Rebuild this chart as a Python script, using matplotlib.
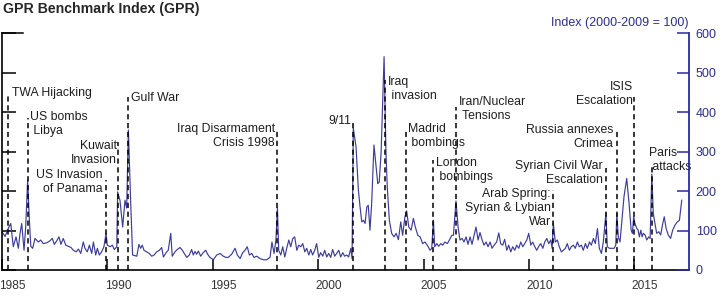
import matplotlib
matplotlib.use("Agg")
import matplotlib.pyplot as plt

plt.rcParams['font.family'] = ['Liberation Sans', 'DejaVu Sans']

# GPR index (decimal years, index value)
dates = [1985.00, 1985.15, 1985.30, 1985.42, 1985.54, 1985.67, 1985.78, 1985.86, 1985.94, 1986.05,
         1986.13, 1986.22, 1986.30, 1986.37, 1986.46, 1986.57, 1986.73, 1986.84, 1986.96, 1987.13,
         1987.28, 1987.39, 1987.49, 1987.60, 1987.71, 1987.80, 1987.91, 1988.03, 1988.15, 1988.28,
         1988.39, 1988.52, 1988.63, 1988.74, 1988.86, 1988.94, 1989.05, 1989.15, 1989.26, 1989.34,
         1989.45, 1989.53, 1989.62, 1989.73, 1989.84, 1989.94, 1990.00, 1990.13, 1990.24, 1990.33,
         1990.45, 1990.49, 1990.60, 1990.73, 1990.84, 1990.92, 1991.00, 1991.11, 1991.20, 1991.40,
         1991.50, 1991.58, 1991.66, 1991.74, 1991.87, 1991.99, 1992.11, 1992.22, 1992.34, 1992.47,
         1992.58, 1992.66, 1992.79, 1992.89, 1993.01, 1993.08, 1993.21, 1993.32, 1993.45, 1993.56,
         1993.65, 1993.77, 1993.89, 1994.00, 1994.08, 1994.16, 1994.24, 1994.32, 1994.43, 1994.55,
         1994.67, 1994.76, 1994.87, 1995.03, 1995.19, 1995.35, 1995.50, 1995.63, 1995.74, 1995.90,
         1996.06, 1996.17, 1996.30, 1996.42, 1996.53, 1996.64, 1996.74, 1996.85, 1996.96, 1997.09,
         1997.24, 1997.40, 1997.56, 1997.72, 1997.81, 1997.91, 1998.00, 1998.07, 1998.13, 1998.23,
         1998.32, 1998.42, 1998.51, 1998.61, 1998.70, 1998.80, 1998.89, 1998.99, 1999.08, 1999.18,
         1999.27, 1999.37, 1999.46, 1999.56, 1999.65, 1999.74, 1999.84, 1999.93, 2000.03, 2000.12,
         2000.22, 2000.31, 2000.41, 2000.50, 2000.60, 2000.69, 2000.79, 2000.88, 2000.98, 2001.07,
         2001.17, 2001.26, 2001.36, 2001.45, 2001.55, 2001.61, 2001.67, 2001.80, 2001.91, 2001.99,
         2002.07, 2002.15, 2002.23, 2002.31, 2002.38, 2002.46, 2002.54, 2002.65, 2002.75, 2002.83,
         2002.90, 2002.99, 2003.13, 2003.22, 2003.28, 2003.38, 2003.49, 2003.60, 2003.70, 2003.81,
         2003.92, 2004.01, 2004.12, 2004.20, 2004.30, 2004.41, 2004.52, 2004.61, 2004.73, 2004.84,
         2004.96, 2005.07, 2005.18, 2005.31, 2005.39, 2005.47, 2005.53, 2005.63, 2005.72, 2005.82,
         2005.91, 2006.02, 2006.13, 2006.23, 2006.34, 2006.42, 2006.54, 2006.64, 2006.73, 2006.83,
         2006.92, 2007.02, 2007.11, 2007.21, 2007.30, 2007.40, 2007.49, 2007.59, 2007.68, 2007.78,
         2007.87, 2007.97, 2008.06, 2008.16, 2008.25, 2008.35, 2008.47, 2008.57, 2008.66, 2008.76,
         2008.85, 2008.95, 2009.04, 2009.14, 2009.23, 2009.33, 2009.42, 2009.52, 2009.61, 2009.71,
         2009.80, 2009.90, 2009.99, 2010.09, 2010.18, 2010.28, 2010.37, 2010.47, 2010.56, 2010.66,
         2010.75, 2010.85, 2010.94, 2011.04, 2011.10, 2011.16, 2011.25, 2011.35, 2011.44, 2011.54,
         2011.63, 2011.73, 2011.82, 2011.92, 2012.01, 2012.11, 2012.20, 2012.30, 2012.39, 2012.49,
         2012.58, 2012.68, 2012.77, 2012.87, 2012.96, 2013.06, 2013.15, 2013.25, 2013.34, 2013.44,
         2013.53, 2013.65, 2013.72, 2013.82, 2013.93, 2014.04, 2014.12, 2014.17, 2014.24, 2014.32,
         2014.40, 2014.51, 2014.64, 2014.75, 2014.85, 2014.91, 2014.97, 2015.03, 2015.12, 2015.18,
         2015.24, 2015.31, 2015.37, 2015.43, 2015.51, 2015.59, 2015.68, 2015.75, 2015.83, 2015.90,
         2015.98, 2016.06, 2016.16, 2016.25, 2016.35, 2016.42, 2016.51, 2016.61, 2016.72, 2016.82,
         2016.93, 2017.04, 2017.14, 2017.25]
gpr = [97, 85, 105, 118, 59, 84, 55, 93, 118, 50,
       110, 228, 130, 60, 55, 80, 71, 76, 67, 69,
       74, 80, 65, 74, 84, 65, 80, 63, 60, 57,
       50, 46, 53, 42, 71, 55, 46, 63, 42, 71,
       38, 55, 38, 46, 59, 93, 63, 59, 63, 52,
       59, 198, 177, 109, 177, 157, 355, 170, 38, 35,
       65, 55, 63, 50, 46, 42, 35, 38, 46, 50,
       57, 33, 44, 50, 93, 35, 46, 52, 57, 50,
       42, 32, 38, 52, 38, 47, 40, 48, 35, 44,
       50, 40, 32, 26, 38, 42, 35, 32, 32, 40,
       55, 38, 29, 44, 50, 59, 38, 42, 32, 35,
       29, 26, 26, 32, 71, 42, 76, 158, 50, 38,
       59, 33, 55, 76, 59, 80, 84, 50, 63, 59,
       67, 46, 55, 38, 52, 38, 50, 67, 32, 44,
       35, 50, 33, 42, 32, 52, 35, 42, 50, 33,
       44, 35, 38, 33, 55, 29, 360, 312, 203, 160,
       122, 126, 118, 160, 164, 101, 168, 317, 262, 219,
       223, 300, 541, 296, 211, 126, 93, 84, 93, 77,
       122, 88, 135, 150, 109, 101, 131, 109, 88, 84,
       67, 71, 63, 50, 55, 126, 59, 67, 60, 67,
       63, 71, 67, 76, 88, 88, 175, 109, 76, 80,
       71, 84, 65, 84, 65, 88, 109, 76, 95, 76,
       63, 71, 59, 71, 55, 63, 71, 94, 67, 63,
       78, 50, 63, 46, 59, 50, 63, 55, 71, 59,
       67, 76, 93, 63, 71, 59, 50, 60, 67, 55,
       71, 80, 67, 76, 55, 118, 71, 76, 59, 46,
       50, 55, 67, 50, 59, 63, 55, 71, 59, 63,
       50, 67, 55, 71, 63, 80, 67, 105, 55, 42,
       71, 143, 59, 55, 55, 55, 63, 143, 84, 71,
       118, 186, 232, 169, 101, 93, 135, 118, 105, 101,
       84, 101, 84, 93, 89, 76, 84, 80, 243, 143,
       118, 93, 97, 89, 118, 135, 105, 89, 80, 101,
       114, 122, 126, 177]

# events: label, date of the event, top of the dashed line
event_names = ["TWA Hijacking", "US bombs\n Libya", "Kuwait\nInvasion", "US Invasion\nof Panama",
               "Gulf War", "Iraq Disarmament\nCrisis 1998", "9/11", "Iraq\n invasion",
               "Madrid\n bombings", "London\n bombings", "Iran/Nuclear\n Tensions",
               "Arab Spring:\nSyrian & Lybian\nWar", "Syrian Civil War\nEscalation",
               "Russia annexes\nCrimea", "ISIS\nEscalation", "Paris\n attacks"]
event_dates = [1985.30, 1986.22, 1990.49, 1989.94, 1990.98, 1998.07, 2001.67, 2003.17,
               2004.17, 2005.47, 2006.56, 2011.16, 2013.64, 2014.17, 2014.99, 2015.84]
event_tops = [446, 385, 324, 228, 439, 355, 375, 482, 352, 279, 413, 203, 258, 352, 439, 266]
# label anchor: (x, top of text, alignment)
label_x = [1985.48, 1986.33, 1990.44, 1989.77, 1991.11, 1997.96, 2001.56, 2003.30,
           2004.28, 2005.59, 2006.69, 2011.03, 2013.52, 2013.99, 2014.94, 2015.72]
label_y = [464, 403, 329, 256, 451, 373, 393, 492, 373, 286, 441, 208, 279, 370, 479, 311]
label_ha = ["left", "left", "right", "right", "left", "right", "right", "left",
            "left", "left", "left", "right", "right", "right", "right", "left"]

years = [1985, 1990, 1995, 2000, 2005, 2010, 2015]
yticks = [0, 100, 200, 300, 400, 500, 600]

blue = "#2a2aa8"
W, H = 726, 305
fig = plt.figure(figsize=(W / 100, H / 100), dpi=100)
ax = fig.add_axes([1.9 / W, 35 / H, 686.8 / W, 236.6 / H])

ax.plot(dates, gpr, color="#3d3d98", lw=0.85, zorder=2)

for d, top in zip(event_dates, event_tops):
    ax.vlines(d, 0, top, colors="black", linestyles=(0, (3.4, 2.4)), lw=1.1, zorder=3)
for name, x, y, ha in zip(event_names, label_x, label_y, label_ha):
    ax.text(x, y, name, ha=ha, va="top", fontsize=8.8, color="#1e1e1e",
            linespacing=1.2, zorder=4)

ax.set_xlim(1985, 2017.58)
ax.set_ylim(0, 600)
ax.spines["top"].set_visible(False)
ax.spines["right"].set_visible(False)
ax.spines["left"].set_linewidth(1.2)
ax.spines["bottom"].set_linewidth(1.2)

ax.set_xticks(years)
ax.set_xticklabels([])
ax.set_xticks([y + 0.5 for y in years], minor=True)
ax.set_xticklabels([str(y) for y in years], minor=True)
ax.tick_params(axis="x", which="major", direction="in", length=8, width=1.1)
ax.tick_params(axis="x", which="minor", length=0, pad=7, labelsize=8.6, labelcolor="#333333")

ax.set_yticks(yticks)
ax.tick_params(axis="y", direction="in", length=10, width=1.1, labelleft=False)
ax.plot([0, 0.03], [1, 1], transform=ax.transAxes, color="black", lw=1.1, clip_on=False)

ax2 = ax.twinx()
ax2.set_ylim(0, 600)
ax2.set_yticks(yticks)
for s in ["top", "left", "bottom"]:
    ax2.spines[s].set_visible(False)
ax2.spines["right"].set_color(blue)
ax2.spines["right"].set_linewidth(1.3)
ax2.tick_params(axis="y", direction="in", length=9, width=1.1, color=blue,
                labelcolor="#2e2e8c", labelsize=9, pad=5)

fig.text(3 / W, 1 - 2.5 / H, "GPR Benchmark Index (GPR)", fontsize=10.2, fontweight="bold",
         color="#262626", va="top", ha="left")
fig.text(688.5 / W, 1 - 17 / H, "Index (2000-2009 = 100)", fontsize=9, color="#2e2e8c",
         va="top", ha="right")

fig.savefig("out.png", dpi=100)
